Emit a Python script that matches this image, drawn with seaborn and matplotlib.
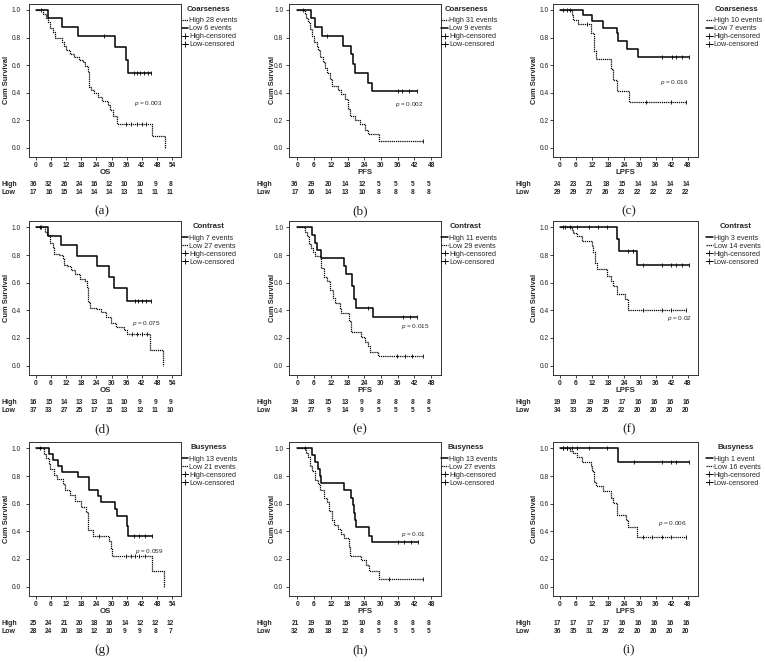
import numpy as np
import pandas as pd
import seaborn as sns
import matplotlib.pyplot as plt
from matplotlib.lines import Line2D
from matplotlib import transforms

# ---------------- data ----------------
# (a) Coarseness / OS
a_high_t = [3.0, 4.0, 4.8, 5.6, 6.8, 7.5, 10.5, 11.0, 12.0, 13.5, 15.0, 17.0, 18.5, 19.5,
            20.5, 21.0, 22.0, 23.0, 24.5, 26.0, 28.5, 29.5, 30.5, 32.0, 46.0, 51.0]
a_high_s = [0.97, 0.94, 0.91, 0.87, 0.84, 0.80, 0.77, 0.74, 0.71, 0.68, 0.66, 0.64, 0.62, 0.59,
            0.55, 0.44, 0.42, 0.40, 0.37, 0.34, 0.31, 0.27, 0.23, 0.17, 0.087, 0.0]
a_high_c = [2.0, 35.5, 37.5, 40.0, 42.0, 43.5]
a_low_t = [5.0, 10.2, 16.9, 31.5, 35.8, 36.3]
a_low_s = [0.94, 0.875, 0.81, 0.73, 0.64, 0.54]
a_low_c = [26.8, 38.8, 40.1, 41.4, 42.9, 44.3, 45.7]
a_risk_high = [36, 32, 26, 24, 16, 12, 10, 10, 9, 8]
a_risk_low = [17, 16, 15, 14, 14, 14, 13, 11, 11, 11]

# (b) Coarseness / PFS
b_high_t = [2.7, 3.3, 3.9, 4.5, 5.1, 6.1, 6.9, 7.5, 8.1, 9.3, 10.1, 10.8, 11.7, 12.5,
            14.6, 15.8, 17.0, 18.0, 18.8, 20.6, 22.4, 24.2, 25.4, 29.3]
b_high_s = [0.97, 0.94, 0.91, 0.86, 0.81, 0.77, 0.74, 0.71, 0.66, 0.62, 0.58, 0.54, 0.50, 0.45,
            0.42, 0.39, 0.35, 0.28, 0.23, 0.20, 0.17, 0.13, 0.10, 0.05]
b_high_c = [2.1, 45.0]
b_low_t = [4.9, 6.3, 8.7, 16.4, 19.4, 20.0, 20.6, 25.4, 26.6]
b_low_s = [0.94, 0.875, 0.81, 0.74, 0.68, 0.61, 0.54, 0.47, 0.41]
b_low_c = [10.5, 36.0, 37.5, 40.0, 43.0]
b_risk_high = [36, 29, 20, 14, 12, 5, 5, 5, 5]
b_risk_low = [17, 16, 14, 13, 10, 8, 8, 8, 8]

# (c) Coarseness / LPFS
c_high_t = [4.4, 5.0, 6.9, 11.6, 12.9, 13.5, 19.1, 20.0, 21.25, 26.0]
c_high_s = [0.96, 0.93, 0.895, 0.83, 0.70, 0.645, 0.57, 0.49, 0.41, 0.33]
c_high_c = [10.25, 32.25, 41.6, 47.1]
c_low_t = [8.75, 11.9, 16.25, 21.5, 21.9, 25.0, 29.1]
c_low_s = [0.96, 0.92, 0.87, 0.83, 0.775, 0.72, 0.655]
c_low_c = [1.25, 2.5, 3.75, 38.1, 42.1, 43.4, 45.6, 48.4]
c_risk_high = [24, 23, 21, 18, 15, 14, 14, 14, 14]
c_risk_low = [29, 29, 27, 26, 23, 22, 22, 22, 22]

# (d) Contrast / OS
d_high_t = [4.85, 10.0, 16.3, 24.4, 29.1, 31.0, 36.1]
d_high_s = [0.935, 0.87, 0.795, 0.72, 0.64, 0.56, 0.465]
d_high_c = [1.7, 39.3, 40.6, 41.9, 43.4, 45.5]
d_low_t = [3.6, 4.5, 5.5, 6.8, 7.4, 9.1, 10.6, 11.2, 12.5, 13.8, 15.7, 17.6, 19.3, 20.2,
           20.6, 21.5, 24.0, 25.9, 27.8, 29.8, 31.7, 34.9, 35.9, 45.3, 50.4]
d_low_s = [0.97, 0.945, 0.89, 0.86, 0.81, 0.80, 0.78, 0.73, 0.72, 0.69, 0.66, 0.63, 0.61, 0.57,
           0.46, 0.42, 0.41, 0.39, 0.35, 0.31, 0.28, 0.26, 0.23, 0.115, 0.0]
d_low_c = [2.0, 38.0, 40.0, 42.0, 44.0]
d_risk_high = [16, 15, 14, 13, 13, 11, 10, 9, 9, 9]
d_risk_low = [37, 33, 27, 25, 17, 15, 13, 12, 11, 10]

# (e) Contrast / PFS
e_high_t = [5.3, 6.2, 7.0, 8.6, 16.7, 17.6, 19.7, 20.5, 21.1, 27.1]
e_high_s = [0.945, 0.89, 0.835, 0.78, 0.72, 0.66, 0.58, 0.48, 0.42, 0.35]
e_high_c = [25.3, 38.0, 40.5, 43.0]
e_low_t = [2.6, 3.6, 4.2, 5.0, 5.6, 6.2, 8.6, 9.6, 10.7, 11.6, 12.8, 13.4, 15.2, 15.8,
           18.7, 19.3, 22.7, 24.1, 25.3, 25.9, 29.1]
e_low_s = [0.97, 0.94, 0.88, 0.85, 0.82, 0.79, 0.71, 0.64, 0.61, 0.55, 0.49, 0.45, 0.41, 0.38,
           0.32, 0.24, 0.21, 0.17, 0.14, 0.10, 0.07]
e_low_c = [35.8, 38.5, 41.0, 45.0]
e_risk_high = [19, 18, 15, 13, 9, 8, 8, 8, 8]
e_risk_low = [34, 27, 9, 14, 9, 5, 5, 5, 5]

# (f) Contrast / LPFS
f_high_t = [21.5, 22.1, 28.75]
f_high_s = [0.92, 0.83, 0.73]
f_high_c = [1.9, 3.75, 6.25, 10.9, 14.4, 17.5, 25.6, 27.5, 31.25, 38.1, 41.6, 43.4, 45.6, 48.4]
f_low_t = [4.4, 5.0, 6.25, 8.1, 11.9, 12.5, 13.1, 13.75, 17.5, 19.1, 20.0, 21.25, 24.4, 25.6]
f_low_s = [0.98, 0.96, 0.935, 0.90, 0.865, 0.82, 0.74, 0.70, 0.65, 0.615, 0.58, 0.52, 0.48, 0.40]
f_low_c = [1.25, 31.25, 38.1, 41.6, 47.1]
f_risk_high = [19, 19, 19, 19, 17, 16, 16, 16, 16]
f_risk_low = [34, 33, 29, 25, 22, 20, 20, 20, 20]

# (g) Busyness / OS
g_high_t = [5.1, 6.8, 9.0, 10.3, 16.7, 21.0, 24.7, 25.7, 31.5, 32.1, 36.0, 36.6]
g_high_s = [0.96, 0.92, 0.875, 0.83, 0.79, 0.70, 0.655, 0.61, 0.56, 0.51, 0.44, 0.37]
g_high_c = [1.9, 39.0, 40.9, 43.1, 46.0]
g_low_t = [3.2, 4.1, 5.1, 5.8, 7.1, 8.4, 10.9, 11.6, 13.5, 15.4, 18.0, 19.9, 20.6, 22.5,
           28.9, 29.6, 30.2, 45.9, 50.8]
g_low_s = [0.96, 0.93, 0.89, 0.85, 0.81, 0.78, 0.74, 0.70, 0.66, 0.62, 0.58, 0.54, 0.41, 0.37,
           0.33, 0.28, 0.22, 0.11, 0.0]
g_low_c = [25.1, 35.5, 37.5, 39.2, 41.0, 43.0]
g_risk_high = [25, 24, 21, 20, 18, 16, 14, 12, 12, 12]
g_risk_low = [28, 24, 20, 18, 12, 10, 9, 9, 8, 7]

# (h) Busyness / PFS
h_high_t = [5.2, 6.5, 7.4, 8.0, 8.6, 16.7, 19.3, 19.9, 20.3, 20.7, 21.1, 25.8, 26.8]
h_high_s = [0.95, 0.90, 0.85, 0.80, 0.75, 0.70, 0.64, 0.59, 0.53, 0.48, 0.43, 0.37, 0.32]
h_high_c = [36.0, 38.3, 40.7, 43.1]
h_low_t = [3.2, 3.8, 4.4, 5.2, 6.2, 7.4, 8.3, 9.5, 10.7, 11.5, 12.4, 13.0, 14.5, 15.7,
           16.9, 18.5, 18.9, 22.9, 24.6, 25.8, 29.2]
h_low_s = [0.97, 0.94, 0.875, 0.84, 0.77, 0.74, 0.70, 0.645, 0.61, 0.545, 0.48, 0.445, 0.42, 0.38,
           0.35, 0.29, 0.225, 0.19, 0.16, 0.11, 0.055]
h_low_c = [2.6, 33.0, 44.9]
h_risk_high = [21, 19, 16, 15, 10, 8, 8, 8, 8]
h_risk_low = [32, 26, 18, 12, 8, 5, 5, 5, 5]

# (i) Busyness / LPFS
i_high_t = [21.9]
i_high_s = [0.90]
i_high_c = [1.25, 2.5, 4.4, 6.25, 10.9, 17.5, 27.9, 38.1, 41.6, 43.4, 48.4]
i_low_t = [3.75, 4.75, 6.25, 8.1, 11.6, 12.1, 12.75, 13.5, 16.25, 19.1, 20.0, 21.25, 24.75,
           25.6, 28.75]
i_low_s = [0.98, 0.965, 0.94, 0.905, 0.87, 0.835, 0.76, 0.725, 0.69, 0.645, 0.605, 0.52, 0.48,
           0.43, 0.36]
i_low_c = [1.25, 2.5, 31.25, 34.4, 38.1, 41.6, 47.1]
i_risk_high = [17, 17, 17, 17, 16, 16, 16, 16, 16]
i_risk_low = [36, 35, 31, 29, 22, 20, 20, 20, 20]

features = ["Coarseness", "Contrast", "Busyness"]
endpoints = ["OS", "PFS", "LPFS"]
endpoint_max = [54, 48, 48]
event_labels = [
    ["High 28 events", "Low 6 events"], ["High 31 events", "Low 9 events"], ["High 10 events", "Low 7 events"],
    ["High 7 events", "Low 27 events"], ["High 11 events", "Low 29 events"], ["High 3 events", "Low 14 events"],
    ["High 13 events", "Low 21 events"], ["High 13 events", "Low 27 events"], ["High 1 event", "Low 16 events"],
]
p_values = ["0.003", "0.002", "0.016", "0.075", "0.015", "0.02", "0.059", "0.01", "0.006"]
p_pos = [(38.8, 0.317), (34.9, 0.315), (37.5, 0.473), (38.1, 0.304), (37.3, 0.28),
         (40.0, 0.34), (39.2, 0.255), (37.1, 0.375), (36.9, 0.455)]
letters = ["(a)", "(b)", "(c)", "(d)", "(e)", "(f)", "(g)", "(h)", "(i)"]

curves = [
    (a_high_t, a_high_s, a_high_c, a_low_t, a_low_s, a_low_c, a_risk_high, a_risk_low),
    (b_high_t, b_high_s, b_high_c, b_low_t, b_low_s, b_low_c, b_risk_high, b_risk_low),
    (c_high_t, c_high_s, c_high_c, c_low_t, c_low_s, c_low_c, c_risk_high, c_risk_low),
    (d_high_t, d_high_s, d_high_c, d_low_t, d_low_s, d_low_c, d_risk_high, d_risk_low),
    (e_high_t, e_high_s, e_high_c, e_low_t, e_low_s, e_low_c, e_risk_high, e_risk_low),
    (f_high_t, f_high_s, f_high_c, f_low_t, f_low_s, f_low_c, f_risk_high, f_risk_low),
    (g_high_t, g_high_s, g_high_c, g_low_t, g_low_s, g_low_c, g_risk_high, g_risk_low),
    (h_high_t, h_high_s, h_high_c, h_low_t, h_low_s, h_low_c, h_risk_high, h_risk_low),
    (i_high_t, i_high_s, i_high_c, i_low_t, i_low_s, i_low_c, i_risk_high, i_risk_low),
]

# ---------------- layout (pixels) ----------------
W, H = 765, 662
col_box = [(29, 181), (288.5, 441), (553, 698)]
col_xlim = [(-2.64, 57.4), (-3.15, 51.5), (-2.6, 51.75)]
row_box = [(3.5, 157), (221, 375), (442, 596)]
ylabel_x = [7, 272, 534]
ytick_pad = [3.5, 1.5, 1.0]
rowlab_x = [2, 256.5, 515.5]
letter_x = [102, 360, 629]
legend_x = [181.5, 441.5, 706]
legtitle_x = [208.5, 466, 736]

sns.set_style("ticks")
plt.rcParams['font.family'] = ['Liberation Sans', 'DejaVu Sans']
plt.rcParams['mathtext.fontset'] = 'custom'
plt.rcParams['mathtext.it'] = 'Liberation Sans:italic'
plt.rcParams['mathtext.rm'] = 'Liberation Sans'

SOLID = dict(color='black', lw=1.1, linestyle='-')
DOT = dict(color='black', lw=0.9, linestyle=(0, (1.0, 0.7)))


def km_frame(t, s, c):
    end = max([t[-1]] + list(c))
    x = [0.0] + list(t)
    y = [1.0] + list(s)
    if end > t[-1]:
        x.append(end)
        y.append(s[-1])
    return pd.DataFrame({"time": x, "surv": y})


def surv_at(t, s, times):
    idx = np.searchsorted(np.asarray(t), np.asarray(times), side='right') - 1
    return np.where(idx < 0, 1.0, np.asarray(s)[np.clip(idx, 0, None)])


fig = plt.figure(figsize=(W / 100, H / 100), dpi=100)

for k in range(9):
    r, c = divmod(k, 3)
    x0, x1 = col_box[c]
    y0, y1 = row_box[r]
    box_h = y1 - y0
    ax = fig.add_axes([x0 / W, 1 - y1 / H, (x1 - x0) / W, box_h / H])
    ht, hs, hc, lt, ls, lc, rh, rl = curves[k]
    high_solid = r > 0
    hstyle = SOLID if high_solid else DOT
    lstyle = DOT if high_solid else SOLID

    for t, s, cens, sty in [(ht, hs, hc, hstyle), (lt, ls, lc, lstyle)]:
        df = km_frame(t, s, cens)
        sns.lineplot(data=df, x="time", y="surv", ax=ax, drawstyle='steps-post',
                     estimator=None, sort=False, **sty)
        ax.plot(cens, surv_at(t, s, cens), ls='none', marker='|', ms=2.8,
                mew=0.6, color='black')

    xmax = endpoint_max[c]
    ticks = np.arange(0, xmax + 1, 6)
    ax.set_xlim(*col_xlim[c])
    ax.set_ylim(-0.068, 1.047)
    ax.set_xticks(ticks)
    ax.set_xticklabels([str(v) for v in ticks], fontsize=4.8, fontweight='bold')
    ax.set_yticks([0.0, 0.2, 0.4, 0.6, 0.8, 1.0])
    ax.set_yticklabels(["0.0", "0.2", "0.4", "0.6", "0.8", "1.0"], fontsize=4.8)
    ax.tick_params(length=2.2, width=0.6, colors='#222222')
    ax.tick_params(axis='x', pad=1.5)
    ax.tick_params(axis='y', pad=ytick_pad[c])
    ax.set_xlabel("")
    ax.set_ylabel("")
    for sp in ax.spines.values():
        sp.set_linewidth(0.7)
        sp.set_color('#333333')

    # axis titles
    ax.text(0.5, -15.5 / box_h, endpoints[c], transform=ax.transAxes, ha='center',
            va='center', fontsize=5.6, fontweight='bold')
    fig.text(ylabel_x[c] / W, 1 - (y0 + y1) / 2 / H, "Cum Survival", rotation=90,
             ha='center', va='center', fontsize=5.4, fontweight='bold')

    # p value
    px, py = p_pos[k]
    ax.text(px, py, r"$\mathit{p}$ = " + p_values[k], fontsize=4.6, ha='left', va='center')

    # number at risk
    blend = transforms.blended_transform_factory(ax.transData, ax.transAxes)
    for vals, off in [(rh, 27.5), (rl, 35.5)]:
        for tv, v in zip(ticks, vals):
            ax.text(tv - 0.8, -off / box_h, str(v), transform=blend, ha='center',
                    va='center', fontsize=4.8, fontweight='bold', clip_on=False)
    fig.text(rowlab_x[c] / W, 1 - (y1 + 27.5) / H, "High", ha='left', va='center',
             fontsize=5.0, fontweight='bold')
    fig.text(rowlab_x[c] / W, 1 - (y1 + 35.5) / H, "Low", ha='left', va='center',
             fontsize=5.0, fontweight='bold')
    fig.text(letter_x[c] / W, 1 - (y1 + 54.5) / H, letters[k], ha='center', va='center',
             fontsize=9.5, family='Liberation Serif')

    # legend: title as its own text, entries below it
    fig.text(legtitle_x[c] / W, 1 - (y0 + 5.7) / H, features[r], ha='center', va='center',
             fontsize=5.6, fontweight='bold')
    hl, ll = event_labels[k]
    handles = [
        Line2D([], [], **hstyle),
        Line2D([], [], **lstyle),
        Line2D([], [], color='black', lw=0.6, marker='+', ms=4, mew=0.6),
        Line2D([], [], color='black', lw=0.6, marker='+', ms=4, mew=0.6),
    ]
    fig.legend(handles, [hl, ll, "High-censored", "Low-censored"],
               loc='upper left', bbox_to_anchor=(legend_x[c] / W, 1 - (y0 + 13.9) / H),
               frameon=False, fontsize=5.2,
               handlelength=0.9, handletextpad=0.15, labelspacing=0.12,
               borderaxespad=0.0, borderpad=0.0)

fig.savefig("out.png", dpi=100)
